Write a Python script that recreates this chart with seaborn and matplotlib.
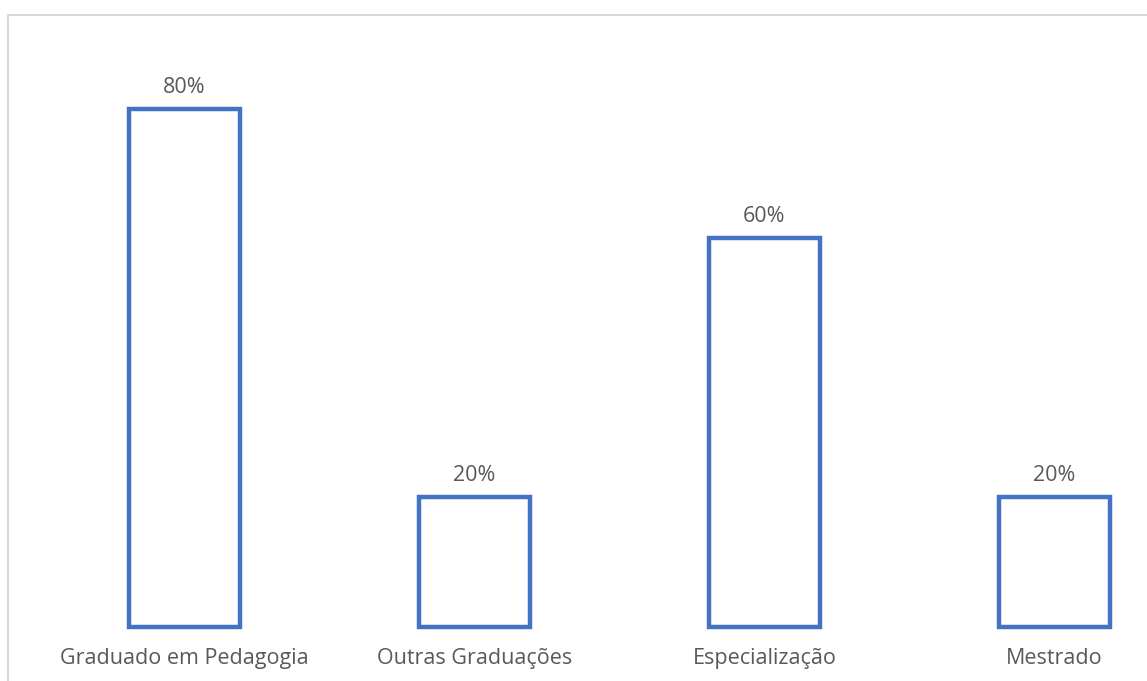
import matplotlib
matplotlib.use("Agg")
import matplotlib.pyplot as plt
from matplotlib.lines import Line2D
import seaborn as sns
import pandas as pd

categorias = ["Graduado em Pedagogia", "Outras Graduações", "Especialização", "Mestrado"]
percentuais = [80, 20, 60, 20]

sns.set_theme(style="white")
plt.rcParams["font.family"] = ["Open Sans", "DejaVu Sans"]

df = pd.DataFrame({"categoria": categorias, "percentual": percentuais})

fig = plt.figure(figsize=(11.47, 6.81), dpi=100)
ax = fig.add_axes([0, 54 / 681, 1, 627 / 681])

sns.barplot(data=df, x="categoria", y="percentual", ax=ax,
            color="white", saturation=1, edgecolor="#4472C4",
            linewidth=3.2, width=0.383)

for p in ax.patches:
    p.set_clip_on(False)

ax.bar_label(ax.containers[0], labels=[f"{v}%" for v in percentuais],
             padding=8, color="#595959", fontsize=15.5)

ax.set_xlim(-0.636, 3.319)
ax.set_ylim(0, 96.83)
ax.set_xlabel("")
ax.set_ylabel("")
ax.set_yticks([])
ax.tick_params(axis="x", length=0, pad=15, labelsize=15.5, labelcolor="#595959")
for s in ax.spines.values():
    s.set_visible(False)
ax.patch.set_alpha(0)

# chart frame (top and left edges)
frame = "#d9d9d9"
fig.add_artist(Line2D([8 / 1147, 1], [1 - 15 / 681, 1 - 15 / 681],
                      transform=fig.transFigure, color=frame, lw=1.5))
fig.add_artist(Line2D([8 / 1147, 8 / 1147], [0, 1 - 15 / 681],
                      transform=fig.transFigure, color=frame, lw=1.5))

fig.savefig("out.png", dpi=100)
